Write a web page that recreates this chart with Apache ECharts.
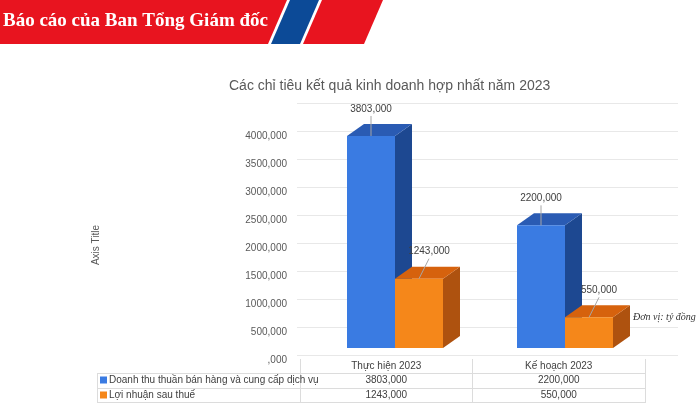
<!DOCTYPE html>
<html>
<head>
<meta charset="utf-8">
<script src="https://cdn.jsdelivr.net/npm/echarts@6/dist/echarts.min.js"></script>
<style>
  html, body { margin: 0; padding: 0; background: #fff; }
  #main { width: 700px; height: 405px; }
</style>
</head>
<body>
<div id="main"></div>
<script>
var categories = ['Thực hiện 2023', 'Kế hoạch 2023'];
var seriesNames = ['Doanh thu thuần bán hàng và cung cấp dịch vụ', 'Lợi nhuận sau thuế'];
var revenue = [3803, 2200];
var profit = [1243, 550];

var colors = [
  {front: '#3a7be2', side: '#1d4891', top: '#2a5bb3'},
  {front: '#f5871a', side: '#ae520f', top: '#d6620d'}
];
var labelColor = '#595959';

// "3803,000" style (vi-VN decimal comma, no leading zero)
function fmt(v) {
  return (v === 0 ? '' : String(v)) + ',000';
}

// fake 3D column: front face + side + top, label with leader line
function render3d(sIdx) {
  return function (params, api) {
    var cat = api.value(0), v = api.value(1);
    var p = api.coord([cat, v]);
    var b = api.coord([cat, 0]);
    var bw = 48, dx = 17, dy = 12;
    var x0 = p[0] - bw + sIdx * bw;
    var x1 = x0 + bw;
    var top = p[1], base = b[1];
    var c = colors[sIdx];
    var cx = x0 + bw / 2;
    var lx = cx + (sIdx === 0 ? 0 : 10);
    return {
      type: 'group',
      children: [
        {type: 'polygon', shape: {points: [[x1, top], [x1 + dx, top - dy], [x1 + dx, base - dy], [x1, base]]},
          style: {fill: c.side}},
        {type: 'polygon', shape: {points: [[x0, top], [x1, top], [x1 + dx, top - dy], [x0 + dx, top - dy]]},
          style: {fill: c.top}},
        {type: 'rect', shape: {x: x0, y: top, width: bw, height: base - top},
          style: {fill: c.front}},
        {type: 'line', shape: {x1: lx, y1: top - 20, x2: cx, y2: top},
          style: {stroke: '#a6a6a6', lineWidth: 1}},
        {type: 'text', x: lx, y: top - 27,
          style: {text: fmt(v), fill: '#404040', font: '10px "Liberation Sans"', align: 'center', verticalAlign: 'middle'}}
      ]
    };
  };
}

var chart = echarts.init(document.getElementById('main'));

var option = {
  animation: false,
  title: {
    text: 'Các chỉ tiêu kết quả kinh doanh hợp nhất năm 2023',
    left: 224, top: 74,
    textStyle: {fontSize: 14, fontWeight: 'normal', color: labelColor, fontFamily: 'Liberation Sans'}
  },
  legend: {
    data: seriesNames,
    orient: 'vertical',
    left: 100, top: 374,
    padding: 0,
    itemWidth: 7, itemHeight: 7, itemGap: 3,
    icon: 'rect',
    textStyle: {fontSize: 10, color: '#404040', fontFamily: 'Liberation Sans', lineHeight: 12, padding: [0, 0, 0, -3]}
  },
  grid: [
    {left: 297, right: 22, top: 103, bottom: 50},
    {left: 310, right: 50, top: 125, bottom: 57},
    {left: 300, right: 55, top: 300, bottom: 46}
  ],
  xAxis: [
    {gridIndex: 0, type: 'category', data: categories, show: false},
    {gridIndex: 1, type: 'category', data: categories, show: false},
    {gridIndex: 2, type: 'category', data: categories, position: 'bottom',
      axisLine: {show: false}, axisTick: {show: false},
      axisLabel: {margin: 2, fontSize: 10, color: '#404040', fontFamily: 'Liberation Sans'}},
    {gridIndex: 2, type: 'category', data: revenue.map(fmt), position: 'bottom',
      axisLine: {show: false}, axisTick: {show: false},
      axisLabel: {margin: 16, fontSize: 10, color: '#404040', fontFamily: 'Liberation Sans'}},
    {gridIndex: 2, type: 'category', data: profit.map(fmt), position: 'bottom',
      axisLine: {show: false}, axisTick: {show: false},
      axisLabel: {margin: 31, fontSize: 10, color: '#404040', fontFamily: 'Liberation Sans'}}
  ],
  yAxis: [
    {gridIndex: 0, type: 'value', min: 0, max: 4500, interval: 500,
      axisLine: {show: false}, axisTick: {show: false},
      splitLine: {lineStyle: {color: '#e8e8e8', width: 1}},
      axisLabel: {margin: 10, fontSize: 10, color: labelColor, fontFamily: 'Liberation Sans',
        verticalAlign: 'top', lineHeight: 10,
        formatter: function (v) { return v === 4500 ? '' : fmt(v); }}},
    {gridIndex: 1, type: 'value', min: 0, max: 4000, show: false},
    {gridIndex: 2, type: 'value', show: false}
  ],
  series: [
    {name: seriesNames[0], type: 'custom', xAxisIndex: 1, yAxisIndex: 1,
      itemStyle: {color: colors[0].front},
      renderItem: render3d(0), encode: {x: 0, y: 1},
      data: revenue.map(function (v, i) { return [i, v]; })},
    {name: seriesNames[1], type: 'custom', xAxisIndex: 1, yAxisIndex: 1,
      itemStyle: {color: colors[1].front},
      renderItem: render3d(1), encode: {x: 0, y: 1},
      data: profit.map(function (v, i) { return [i, v]; })}
  ],
  graphic: [
    // header band
    {type: 'polygon', shape: {points: [[0, 0], [287, 0], [268, 44], [0, 44]]}, style: {fill: '#e8141f'}},
    {type: 'polygon', shape: {points: [[290, 0], [319, 0], [300, 44], [271, 44]]}, style: {fill: '#0c4a97'}},
    {type: 'polygon', shape: {points: [[322, 0], [383, 0], [364, 44], [303, 44]]}, style: {fill: '#e8141f'}},
    {type: 'text', left: 3, top: 12,
      style: {text: 'Báo cáo của Ban Tổng Giám đốc', fill: '#fff', font: 'bold 19px "Liberation Serif"'}},
    // unit note
    {type: 'text', left: 633, top: 312,
      style: {text: 'Đơn vị: tỷ đồng', fill: '#333', font: 'italic 10px "Liberation Serif"'}},
    // y axis title
    {type: 'text', x: 96, y: 245, rotation: Math.PI / 2,
      style: {text: 'Axis Title', fill: labelColor, font: '10px "Liberation Sans"', align: 'center', verticalAlign: 'middle'}},
    // data table borders
    {type: 'group', silent: true, children: [
      {type: 'line', shape: {x1: 97, y1: 373.5, x2: 645, y2: 373.5}, style: {stroke: '#dcdcdc'}},
      {type: 'line', shape: {x1: 97, y1: 388.5, x2: 645, y2: 388.5}, style: {stroke: '#dcdcdc'}},
      {type: 'line', shape: {x1: 97, y1: 402.5, x2: 645, y2: 402.5}, style: {stroke: '#dcdcdc'}},
      {type: 'line', shape: {x1: 97.5, y1: 373, x2: 97.5, y2: 403}, style: {stroke: '#dcdcdc'}},
      {type: 'line', shape: {x1: 300.5, y1: 359, x2: 300.5, y2: 403}, style: {stroke: '#dcdcdc'}},
      {type: 'line', shape: {x1: 472.5, y1: 359, x2: 472.5, y2: 403}, style: {stroke: '#dcdcdc'}},
      {type: 'line', shape: {x1: 645.5, y1: 359, x2: 645.5, y2: 403}, style: {stroke: '#dcdcdc'}}
    ]}
  ]
};

chart.setOption(option);
</script>
</body>
</html>
